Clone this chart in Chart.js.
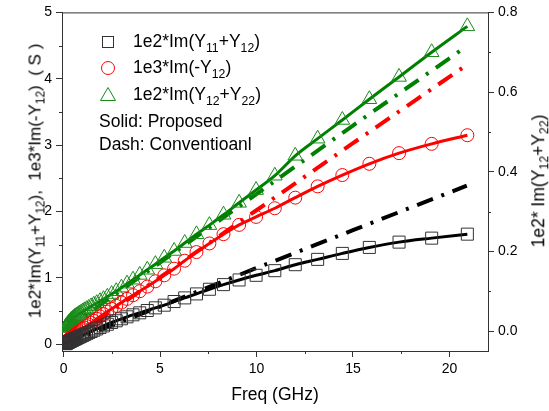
<!DOCTYPE html>
<html>
<head>
<meta charset="utf-8">
<script src="https://cdn.jsdelivr.net/npm/chart.js@4.4.1/dist/chart.umd.min.js"></script>
<style>
  html,body{margin:0;padding:0;background:#fff}
  #wrap{position:relative;width:549px;height:411px;font-family:"Liberation Sans",Arial,sans-serif;color:#000}
  #wrap canvas{position:absolute;left:0;top:0}
  .lbl{position:absolute;white-space:nowrap;font-size:17.5px;line-height:1}
  .lbl sub{font-size:0.7em;vertical-align:-0.35em;line-height:0}
  .leg{position:absolute;white-space:nowrap;font-size:17.5px;line-height:1;transform:translateY(-50%)}
  .mk{position:absolute;transform:translate(-50%,-50%)}
  .rot{transform:translate(-50%,-50%) rotate(-90deg)}
</style>
</head>
<body>
<div id="wrap">
  <canvas id="c" width="549" height="411"></canvas>

  <!-- legend -->
  <svg class="mk" style="left:108px;top:42px" width="14" height="14"><rect x="1.5" y="1.5" width="11" height="11" fill="none" stroke="#333" stroke-width="1"/></svg>
  <div class="leg lbl" style="left:133px;top:42px">1e2*Im(Y<sub>11</sub>+Y<sub>12</sub>)</div>
  <svg class="mk" style="left:108px;top:68px" width="16" height="16"><circle cx="8" cy="8" r="6.5" fill="none" stroke="#ff0000" stroke-width="1"/></svg>
  <div class="leg lbl" style="left:133px;top:68px">1e3*Im(-Y<sub>12</sub>)</div>
  <svg class="mk" style="left:108px;top:94px" width="18" height="16"><polygon points="9,1.5 16.5,14.5 1.5,14.5" fill="none" stroke="#1a8a1a" stroke-width="1"/></svg>
  <div class="leg lbl" style="left:133px;top:95px">1e2*Im(Y<sub>12</sub>+Y<sub>22</sub>)</div>
  <div class="leg lbl" style="left:99px;top:122px">Solid: Proposed</div>
  <div class="leg lbl" style="left:99px;top:145px">Dash: Conventioanl</div>

  <!-- axis titles -->
  <div class="lbl rot" style="left:35px;top:181px;font-size:17px">1e2*Im(Y<sub>11</sub>+Y<sub>12</sub>),&nbsp;&nbsp;1e3*Im(-Y<sub>12</sub>)&nbsp;&nbsp;( S )</div>
  <div class="lbl rot" style="left:539px;top:181px">1e2* Im(Y<sub>12</sub>+Y<sub>22</sub>)</div>
  <div class="lbl" style="left:275px;top:395px;transform:translate(-50%,-50%)">Freq (GHz)</div>
</div>

<script>
/* ── Data ── */
const FREQ = [0.10,0.11,0.12,0.13,0.14,0.15,0.17,0.19,0.20,0.22,0.25,0.27,0.30,0.32,0.36,0.39,0.43,0.47,0.52,0.57,
              0.62,0.68,0.75,0.82,0.90,0.99,1.08,1.19,1.30,1.43,1.57,1.72,1.89,2.07,2.27,2.49,2.73,3.00,3.29,3.60,
              3.95,4.34,4.76,5.22,5.73,6.28,6.89,7.56,8.29,9.10,9.98,10.95,12.01,13.17,14.45,15.85,17.39,19.08,20.93];

// 1e2*Im(Y11+Y12), proposed (left axis)
const Y11_12 = [0.010,0.015,0.016,0.018,0.019,0.020,0.023,0.026,0.027,0.030,0.034,0.037,0.041,0.044,0.049,0.053,0.059,0.064,0.071,0.078,
                0.085,0.093,0.103,0.112,0.123,0.135,0.147,0.162,0.177,0.194,0.213,0.233,0.255,0.278,0.303,0.330,0.355,0.385,0.415,0.445,
                0.475,0.510,0.550,0.590,0.645,0.700,0.760,0.830,0.900,0.970,1.040,1.110,1.200,1.280,1.370,1.460,1.540,1.600,1.660];

// 1e3*Im(-Y12), proposed (left axis)
const MY12 = [0.030,0.035,0.037,0.040,0.042,0.045,0.050,0.055,0.058,0.063,0.070,0.075,0.082,0.087,0.096,0.103,0.112,0.121,0.132,0.143,
              0.154,0.167,0.182,0.197,0.214,0.233,0.252,0.275,0.298,0.325,0.354,0.385,0.420,0.455,0.495,0.535,0.580,0.630,0.685,0.740,
              0.800,0.870,0.950,1.040,1.140,1.260,1.390,1.520,1.660,1.800,1.920,2.050,2.210,2.380,2.550,2.720,2.880,3.020,3.150];

// 1e2*Im(Y12+Y22), proposed (right axis)
const Y12_22 = [0.008,0.009,0.010,0.011,0.012,0.013,0.014,0.015,0.016,0.017,0.019,0.020,0.022,0.023,0.025,0.027,0.029,0.031,0.033,0.035,
                0.037,0.039,0.041,0.044,0.046,0.049,0.052,0.055,0.058,0.062,0.066,0.070,0.075,0.080,0.086,0.093,0.100,0.109,0.119,0.129,
                0.141,0.154,0.168,0.184,0.201,0.221,0.243,0.266,0.292,0.322,0.354,0.390,0.440,0.483,0.530,0.582,0.638,0.700,0.765];

// conventional model (dash-dot)
const CONV_FREQ   = [0, 5, 10, 15, 20.9];
const CONV_Y11_12 = [0, 0.57, 1.15, 1.72, 2.39];
const CONV_MY12   = [0, 1.01, 2.02, 3.03, 4.21];
const CONV_Y12_22 = [0, 0.172, 0.344, 0.516, 0.715];

// ticks
const X_TICKS  = [0, 5, 10, 15, 20];
const X_MINOR  = [2.5, 7.5, 12.5, 17.5];
const Y_TICKS  = [0, 1, 2, 3, 4, 5];
const Y_MINOR  = [0.5, 1.5, 2.5, 3.5, 4.5];
const Y2_TICKS = [0, 0.2, 0.4, 0.6, 0.8];
const Y2_MINOR = [0.1, 0.3, 0.5, 0.7];

/* ── helpers ── */
const pts = (xs, ys) => xs.map((x,i)=>({x, y:ys[i]}));
const AXIS = '#333';
const FONT = { family:'"Liberation Sans", Arial, sans-serif', size:14 };

function proposed(ys, color, ptColor, style, r, axis) {
  return { data:pts(FREQ, ys), yAxisID:axis, showLine:true, borderColor:color, borderWidth:3,
    cubicInterpolationMode:'monotone', pointStyle:style, pointRadius:r, pointBorderColor:ptColor,
    pointBorderWidth:1, pointBackgroundColor:'rgba(0,0,0,0)' };
}
function conventional(ys, color, axis) {
  return { data:pts(CONV_FREQ, ys), yAxisID:axis, showLine:true, borderColor:color, borderWidth:4,
    borderDash:[17,9,3,9], borderCapStyle:'butt', pointRadius:0 };
}

/* ── minor ticks + top frame ── */
const frame = {
  id:'frame',
  afterDraw(chart) {
    const {ctx, chartArea:a, scales:s} = chart;
    ctx.save();
    ctx.strokeStyle = AXIS; ctx.lineWidth = 1;
    ctx.beginPath();
    ctx.moveTo(a.left, a.top + 0.5); ctx.lineTo(a.right, a.top + 0.5);
    X_MINOR.forEach(v=>{ const p = Math.round(s.x.getPixelForValue(v)) + 0.5; ctx.moveTo(p, a.bottom); ctx.lineTo(p, a.bottom + 3); });
    Y_MINOR.forEach(v=>{ const p = Math.round(s.y.getPixelForValue(v)) + 0.5; ctx.moveTo(a.left, p); ctx.lineTo(a.left - 3, p); });
    Y2_MINOR.forEach(v=>{ const p = Math.round(s.y2.getPixelForValue(v)) + 0.5; ctx.moveTo(a.right, p); ctx.lineTo(a.right + 3, p); });
    ctx.stroke();
    ctx.restore();
  }
};

const axisBase = (ticks, fmt) => ({
  type:'linear',
  afterBuildTicks: sc => { sc.ticks = ticks.map(v=>({value:v})); },
  grid:{ drawOnChartArea:false, tickLength:6, color:AXIS, tickColor:AXIS },
  border:{ color:AXIS, width:1 },
  ticks:{ font:FONT, color:'#000', padding:4, callback: fmt }
});

new Chart(document.getElementById('c'), {
  type:'scatter',
  data:{ datasets:[
    proposed(Y11_12, '#000000', '#333333', 'rect', 8.5, 'y'),
    proposed(MY12, '#ff0000', '#ff0000', 'circle', 6.5, 'y'),
    proposed(Y12_22, '#008000', '#1a8a1a', 'triangle', 8.5, 'y2'),
    conventional(CONV_Y11_12, '#000000', 'y'),
    conventional(CONV_MY12, '#ff0000', 'y'),
    conventional(CONV_Y12_22, '#008000', 'y2')
  ]},
  options:{
    responsive:false, animation:false, events:[],
    layout:{ padding:{ top:11, left:0, right:0, bottom:0 } },
    plugins:{ legend:{ display:false }, tooltip:{ enabled:false } },
    scales:{
      x:{ ...axisBase(X_TICKS, v=>v), position:'bottom', min:-0.08, max:22, afterFit: s=>{ s.height = 60; } },
      y:{ ...axisBase(Y_TICKS, v=>v), position:'left', min:-0.1, max:5, afterFit: s=>{ s.width = 62; } },
      y2:{ ...axisBase(Y2_TICKS, v=>v.toFixed(1)), position:'right', min:-0.05, max:0.8, afterFit: s=>{ s.width = 61; } }
    }
  },
  plugins:[frame]
});
</script>
</body>
</html>
